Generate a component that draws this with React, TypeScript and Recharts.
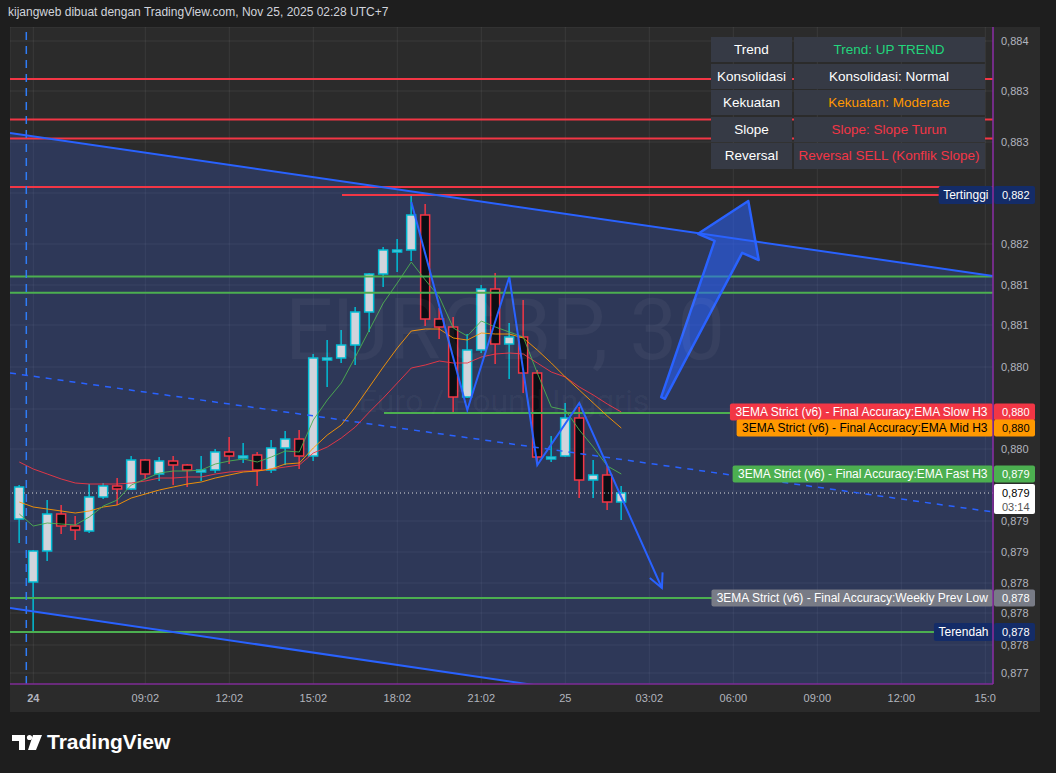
import {
  ComposedChart,
  Bar,
  Line,
  Area,
  XAxis,
  YAxis,
  CartesianGrid,
  ReferenceLine,
} from "recharts";

const FONT = "'Liberation Sans', Arial, sans-serif";

// EURGBP 30m - candle OHLC
const opens = [
  0.87877, 0.87814, 0.87845, 0.87882, 0.8787, 0.87865, 0.87899, 0.8791, 0.87907, 0.87936,
  0.87922, 0.87935, 0.87931, 0.87925, 0.87926, 0.87944, 0.87939, 0.87941, 0.87926, 0.87948,
  0.87957, 0.8794, 0.88037, 0.88038, 0.88051, 0.88084, 0.88122, 0.88145, 0.88146, 0.88181,
  0.88077, 0.88069, 0.87999, 0.88046, 0.88107, 0.88052, 0.88059, 0.88023, 0.87938, 0.8794,
  0.87978, 0.87916, 0.87921, 0.87894,
];
const highs = [
  0.87911, 0.87846, 0.87896, 0.87891, 0.8788, 0.87912, 0.87913, 0.87918, 0.8794, 0.87937,
  0.87939, 0.8794, 0.87932, 0.8794, 0.87947, 0.87959, 0.87953, 0.87944, 0.87956, 0.87965,
  0.87966, 0.88042, 0.88056, 0.88066, 0.88089, 0.88123, 0.88149, 0.88157, 0.88201, 0.88192,
  0.88088, 0.88079, 0.88062, 0.88111, 0.88123, 0.88073, 0.88096, 0.88026, 0.8796, 0.87993,
  0.87989, 0.87936, 0.87931, 0.8791,
];
const lows = [
  0.87853, 0.87764, 0.87835, 0.87862, 0.87856, 0.87863, 0.87897, 0.87891, 0.87906, 0.87917,
  0.87915, 0.87911, 0.87909, 0.87915, 0.87923, 0.87932, 0.87933, 0.8791, 0.87923, 0.87931,
  0.87927, 0.87935, 0.88009, 0.88033, 0.88031, 0.88064, 0.88109, 0.88124, 0.88135, 0.8807,
  0.88057, 0.87983, 0.87998, 0.88043, 0.88032, 0.88017, 0.88003, 0.87933, 0.87934, 0.87939,
  0.87898, 0.87898, 0.87886, 0.87876,
];
const closes = [
  0.87909, 0.87845, 0.87882, 0.8787, 0.87866, 0.87899, 0.8791, 0.87907, 0.87936, 0.87922,
  0.87935, 0.87931, 0.87926, 0.87926, 0.87944, 0.8794, 0.8794, 0.87926, 0.87948, 0.87957,
  0.8794, 0.88038, 0.88038, 0.88051, 0.88084, 0.88122, 0.88146, 0.88146, 0.88181, 0.88077,
  0.88069, 0.87999, 0.88046, 0.88107, 0.88052, 0.88059, 0.88023, 0.87939, 0.87939, 0.87978,
  0.87916, 0.87921, 0.87894, 0.87903,
];

// 3 EMA
const emaFast = [
  0.87882, 0.8787, 0.87873, 0.87872, 0.87871, 0.87879, 0.8789, 0.87896, 0.87911, 0.87917,
  0.87923, 0.87925, 0.87925, 0.87926, 0.87932, 0.87935, 0.87937, 0.87934, 0.87939, 0.87945,
  0.87944, 0.87976, 0.87996, 0.88013, 0.88039, 0.88066, 0.88093, 0.88113, 0.88134, 0.88116,
  0.88099, 0.88068, 0.8806, 0.88075, 0.88069, 0.88064, 0.88059, 0.88023, 0.87989, 0.87986,
  0.87966, 0.87949, 0.8793, 0.87922,
];
const emaMid = [
  0.87894, 0.87889, 0.87887, 0.87885, 0.87883, 0.87885, 0.87889, 0.87891, 0.87898, 0.87902,
  0.87906, 0.87909, 0.87912, 0.87914, 0.87918, 0.87921, 0.87924, 0.87925, 0.87927, 0.87932,
  0.87933, 0.87948, 0.87961, 0.87971, 0.87989, 0.88009, 0.88029, 0.88048, 0.88065, 0.88067,
  0.88067, 0.88058, 0.88056, 0.88063, 0.88062, 0.88062, 0.88058, 0.88046, 0.88033, 0.88019,
  0.88006, 0.87993, 0.8798, 0.87968,
];
const emaSlow = [
  0.87934, 0.87927, 0.87922, 0.87917, 0.87913, 0.87912, 0.87912, 0.87912, 0.87913, 0.87915,
  0.87918, 0.87918, 0.87919, 0.87919, 0.87922, 0.87924, 0.87925, 0.87925, 0.87927, 0.87929,
  0.87931, 0.87943, 0.87949, 0.87958, 0.87969, 0.87984, 0.87998, 0.88013, 0.88028, 0.88031,
  0.88035, 0.88033, 0.88033, 0.88039, 0.88042, 0.88043, 0.88042, 0.88033, 0.88024, 0.88019,
  0.88009, 0.88001, 0.87992, 0.87984,
];

// sumbu
const xDomain = [-0.664, 69.55];
const yDomain = [0.87712, 0.88369];
const timeTicks = [1, 9, 15, 21, 27, 33, 39, 45, 51, 57, 63, 69];
const timeLabels = ["24", "09:02", "12:02", "15:02", "18:02", "21:02", "25", "03:02", "06:00", "09:00", "12:00", "15:0"];
const priceTicks = [
  0.88355, 0.88305, 0.88254, 0.88203, 0.88152, 0.88111, 0.88071, 0.88029, 0.87987, 0.87947,
  0.87905, 0.87875, 0.87844, 0.87813, 0.87783, 0.87751, 0.87723,
];
const priceLabels = [
  "0,884", "0,883", "0,883", "", "0,882", "0,881", "0,881", "0,880", "", "0,880",
  "", "0,879", "0,879", "0,878", "0,878", "0,878", "0,877",
];

// garis tren (channel)
const channelTop = [
  { i: -0.664, v: 0.88263 },
  { i: 69.55, v: 0.8812 },
];
const channelBottom = [
  { i: -0.664, v: 0.87788 },
  { i: 69.55, v: 0.876435 },
];
const channelMid = [
  { i: -0.664, v: 0.88023 },
  { i: 69.55, v: 0.87884 },
];
const zigzag = [
  { i: 28, v: 0.88194 },
  { i: 32, v: 0.87986 },
  { i: 35, v: 0.88119 },
  { i: 37, v: 0.87931 },
  { i: 40, v: 0.87993 },
  { i: 45.9, v: 0.87808 },
];
const bigArrow = [
  { x: 45.98, y: 0.87998 },
  { x: 52.07, y: 0.88195 },
];

// level horizontal
const redLevels = [0.88317, 0.882765, 0.882575, 0.88209];
const greenLevels = [0.881195, 0.881033, 0.87798, 0.87764];
const highLevel = { from: 23.05, v: 0.88201 };
const greenPartial = { from: 26.05, v: 0.87983 };
const lastPrice = 0.87903;

const tags = [
  { v: 0.88201, name: "Tertinggi", price: "0,882", bg: "#142c68", fg: "#ffffff", size: 12, h: 18 },
  { v: emaSlow[emaSlow.length - 1], name: "3EMA Strict (v6) - Final Accuracy:EMA Slow H3", price: "0,880", bg: "#f23645", fg: "#ffffff", size: 12, h: 17 },
  { v: emaMid[emaMid.length - 1], name: "3EMA Strict (v6) - Final Accuracy:EMA Mid H3", price: "0,880", bg: "#ff9800", fg: "#000000", size: 12, h: 17 },
  { v: emaFast[emaFast.length - 1], name: "3EMA Strict (v6) - Final Accuracy:EMA Fast H3", price: "0,879", bg: "#4caf50", fg: "#ffffff", size: 12, h: 17 },
  { v: 0.87798, name: "3EMA Strict (v6) - Final Accuracy:Weekly Prev Low", price: "0,878", bg: "#787b86", fg: "#ffffff", size: 12, h: 17 },
  { v: 0.87764, name: "Terendah", price: "0,878", bg: "#142c68", fg: "#ffffff", size: 12, h: 18 },
];

const tableRows = [
  { k: "Trend", v: "Trend: UP TREND", c: "#22d67c" },
  { k: "Konsolidasi", v: "Konsolidasi: Normal", c: "#ffffff" },
  { k: "Kekuatan", v: "Kekuatan: Moderate", c: "#ff9800" },
  { k: "Slope", v: "Slope: Slope Turun", c: "#f23645" },
  { k: "Reversal", v: "Reversal SELL (Konflik Slope)", c: "#f23645" },
];

const candles = opens.map((o, i) => ({
  i,
  o,
  h: highs[i],
  l: lows[i],
  c: closes[i],
  range: [lows[i], highs[i]],
  fast: emaFast[i],
  mid: emaMid[i],
  slow: emaSlow[i],
}));

const channelBand = channelTop.map((p, k) => ({ i: p.i, band: [channelBottom[k].v, p.v] }));

let ctx: CanvasRenderingContext2D | null = null;
const measure = (t: string, font: string) => {
  if (!ctx) ctx = document.createElement("canvas").getContext("2d");
  if (!ctx) return t.length * 6;
  ctx.font = font;
  return ctx.measureText(t).width;
};

const Candle = (props: any) => {
  const { x, y, width, height } = props;
  const d = props.payload ?? props;
  const up = d.c >= d.o;
  const col = up ? "#00bcd4" : "#f23645";
  const cx = x + width / 2;
  const k = height / (d.h - d.l || 1);
  const top = y + (d.h - Math.max(d.o, d.c)) * k;
  const bot = y + (d.h - Math.min(d.o, d.c)) * k;
  return (
    <g>
      <line x1={cx} x2={cx} y1={y} y2={y + height} stroke={col} strokeWidth={1.5} />
      <rect
        x={cx - 4.5}
        y={top}
        width={9}
        height={Math.max(bot - top, 2)}
        fill={up ? "#d1d4dc" : "#0b0e14"}
        stroke={col}
        strokeWidth={1.5}
      />
    </g>
  );
};

const Tag = ({ viewBox, name, price, bg, fg, size, h }: any) => {
  const right = viewBox.x + viewBox.width;
  const y = viewBox.y;
  const w = measure(name, `${size}px ${FONT}`) + 9;
  return (
    <g>
      <rect x={right - w} y={y - h / 2} width={w} height={h} rx={2} fill={bg} />
      <text x={right - w / 2} y={y} dy="0.35em" textAnchor="middle" fill={fg} fontSize={size} fontFamily={FONT}>
        {name}
      </text>
      <rect x={right + 1} y={y - h / 2} width={41} height={h} rx={2} fill={bg} />
      <text x={right + 9} y={y} dy="0.35em" fill={fg} fontSize={11} fontFamily={FONT}>
        {price}
      </text>
    </g>
  );
};

const LastTag = ({ viewBox }: any) => {
  const right = viewBox.x + viewBox.width;
  const y = viewBox.y;
  return (
    <g>
      <rect x={right + 1} y={y - 9} width={41} height={30} rx={2} fill="#ffffff" />
      <text x={right + 9} y={y} dy="0.35em" fill="#000000" fontSize={11} fontFamily={FONT}>
        0,879
      </text>
      <text x={right + 9} y={y + 14} dy="0.35em" fill="#555" fontSize={11} fontFamily={FONT}>
        03:14
      </text>
    </g>
  );
};

const arrowShape = (p: any) => {
  const { x1, y1, x2, y2 } = p;
  const len = Math.hypot(x2 - x1, y2 - y1) || 1;
  const ux = (x2 - x1) / len;
  const uy = (y2 - y1) / len;
  const nx = -uy;
  const ny = ux;
  const bx = x2 - ux * 50;
  const by = y2 - uy * 50;
  const pts = [
    [x1 + nx * 2, y1 + ny * 2],
    [bx + nx * 15, by + ny * 15],
    [bx + nx * 33, by + ny * 33],
    [x2, y2],
    [bx - nx * 33, by - ny * 33],
    [bx - nx * 15, by - ny * 15],
    [x1 - nx * 2, y1 - ny * 2],
  ];
  return (
    <polygon
      points={pts.map((q) => q.join(",")).join(" ")}
      fill="#2962ff"
      fillOpacity={0.55}
      stroke="#2962ff"
      strokeWidth={2.5}
      strokeLinejoin="round"
    />
  );
};

const headShape = (p: any) => {
  const { x1, y1, x2, y2 } = p;
  const len = Math.hypot(x2 - x1, y2 - y1) || 1;
  const ux = (x2 - x1) / len;
  const uy = (y2 - y1) / len;
  const bx = x2 - ux * 14;
  const by = y2 - uy * 14;
  return (
    <path
      d={`M${bx - uy * 7},${by + ux * 7} L${x2},${y2} L${bx + uy * 7},${by - ux * 7}`}
      fill="none"
      stroke="#2962ff"
      strokeWidth={2}
    />
  );
};

const TimeTick = ({ x, y, payload }: any) => {
  const lab = timeLabels[timeTicks.indexOf(payload.value)];
  return (
    <text x={x} y={y} dy="0.71em" textAnchor="middle" fill="#b2b5be" fontSize={11} fontFamily={FONT} fontWeight={lab === "24" ? 700 : 400}>
      {lab}
    </text>
  );
};

const App = () => {
  return (
    <div style={{ position: "absolute", left: 0, top: 0, width: 1056, height: 773, background: "#1e1e1e", overflow: "hidden", fontFamily: FONT }}>
      <div style={{ position: "absolute", left: 8, top: 5, fontSize: 12, lineHeight: "14px", color: "#d1d4dc", whiteSpace: "nowrap" }}>
        kijangweb dibuat dengan TradingView.com, Nov 25, 2025 02:28 UTC+7
      </div>

      <div style={{ position: "absolute", left: 10, top: 27, width: 1030, height: 685, background: "#2b2b2b" }}>
        <ComposedChart width={1030} height={683} data={candles} margin={{ top: 0, right: 0, bottom: 0, left: 0 }}>
          <XAxis
            dataKey="i"
            type="number"
            domain={xDomain}
            allowDataOverflow
            ticks={timeTicks}
            interval={0}
            height={26}
            tickLine={false}
            tickSize={0}
            tickMargin={10}
            tick={<TimeTick />}
            axisLine={{ stroke: "#7d2a95", strokeWidth: 1.5 }}
          />
          <YAxis
            orientation="right"
            type="number"
            domain={yDomain}
            allowDataOverflow
            ticks={priceTicks}
            interval={0}
            width={47}
            tickLine={false}
            tickSize={0}
            tickMargin={8}
            tickFormatter={(v: number) => priceLabels[priceTicks.indexOf(v)] ?? ""}
            tick={{ fill: "#b2b5be", fontSize: 11, fontFamily: FONT, textAnchor: "start" }}
            axisLine={{ stroke: "#8a2ba4", strokeWidth: 1.5 }}
          />
          <Area
            data={channelBand}
            dataKey="band"
            type="linear"
            stroke="none"
            fill="rgb(55,95,223)"
            fillOpacity={0.25}
            isAnimationActive={false}
          />
          <CartesianGrid stroke="rgba(255,255,255,0.07)" />

          {redLevels.map((v) => (
            <ReferenceLine key={"r" + v} y={v} stroke="#f23645" strokeWidth={2} />
          ))}
          <ReferenceLine
            segment={[{ x: highLevel.from, y: highLevel.v }, { x: xDomain[1], y: highLevel.v }]}
            stroke="#f23645"
            strokeWidth={2}
          />
          {greenLevels.map((v) => (
            <ReferenceLine key={"g" + v} y={v} stroke="#4caf50" strokeWidth={2} />
          ))}
          <ReferenceLine
            segment={[{ x: greenPartial.from, y: greenPartial.v }, { x: xDomain[1], y: greenPartial.v }]}
            stroke="#4caf50"
            strokeWidth={2}
          />
          <ReferenceLine x={0.5} stroke="#2f7cf6" strokeWidth={1.5} strokeDasharray="8 6" />
          <ReferenceLine y={lastPrice} stroke="#e0e0e0" strokeWidth={1} strokeDasharray="1 3" />

          <Line data={channelTop} dataKey="v" type="linear" stroke="#2962ff" strokeWidth={2} dot={false} isAnimationActive={false} />
          <Line data={channelBottom} dataKey="v" type="linear" stroke="#2962ff" strokeWidth={2} dot={false} isAnimationActive={false} />
          <Line data={channelMid} dataKey="v" type="linear" stroke="#2962ff" strokeWidth={1.5} strokeDasharray="6 6" dot={false} isAnimationActive={false} />

          <Bar dataKey="range" barSize={9} shape={<Candle />} isAnimationActive={false} />

          <Line dataKey="slow" type="linear" stroke="#f23645" strokeWidth={1} strokeOpacity={0.9} dot={false} isAnimationActive={false} />
          <Line dataKey="mid" type="linear" stroke="#ff9800" strokeWidth={1} strokeOpacity={0.9} dot={false} isAnimationActive={false} />
          <Line dataKey="fast" type="linear" stroke="#4caf50" strokeWidth={1} strokeOpacity={0.9} dot={false} isAnimationActive={false} />

          <Line data={zigzag} dataKey="v" type="linear" stroke="#2962ff" strokeWidth={2} dot={false} isAnimationActive={false} />
          <ReferenceLine segment={[{ x: zigzag[4].i, y: zigzag[4].v }, { x: zigzag[5].i, y: zigzag[5].v }]} shape={headShape} />
          <ReferenceLine segment={bigArrow} shape={arrowShape} />

          {tags.map((t) => (
            <ReferenceLine
              key={t.name}
              y={t.v}
              stroke="none"
              label={(p: any) => <Tag viewBox={p.viewBox} {...t} />}
            />
          ))}
          <ReferenceLine y={lastPrice} stroke="none" label={(p: any) => <LastTag viewBox={p.viewBox} />} />
        </ComposedChart>
      </div>

      <svg width={1056} height={773} style={{ position: "absolute", left: 0, top: 0, pointerEvents: "none" }}>
        <text x={505} y={359} textAnchor="middle" fontSize={85} fontFamily="Roboto, sans-serif" fill="rgba(255,255,255,0.045)">
          EURGBP, 30
        </text>
        <text x={504} y={412} textAnchor="middle" fontSize={32} fontFamily="Roboto, sans-serif" fill="rgba(255,255,255,0.045)">
          Euro / Pound Inggris
        </text>
        <g fill="#ffffff">
          <path d="M12 735 H25 V750 H19 V741 H12 Z" />
          <circle cx={29.5} cy={737.5} r={2.6} />
          <path d="M33 735 H42 L36 750 H28 Z" />
        </g>
        <text x={47} y={749} fontSize={21} fontWeight={700} fontFamily={FONT} fill="#ffffff">
          TradingView
        </text>
      </svg>

      <div style={{ position: "absolute", left: 711, top: 37, display: "grid", gridTemplateColumns: "81px 191px", gap: "1.3px 1.5px" }}>
        {tableRows.map((r) => [
          <div key={r.k + "a"} style={{ background: "#363a45", height: 25.3, lineHeight: "25px", textAlign: "center", color: "#ffffff", fontSize: 13.5 }}>
            {r.k}
          </div>,
          <div key={r.k + "b"} style={{ background: "#363a45", height: 25.3, lineHeight: "25px", textAlign: "center", color: r.c, fontSize: 13.5 }}>
            {r.v}
          </div>,
        ])}
      </div>
    </div>
  );
};

export default App;
